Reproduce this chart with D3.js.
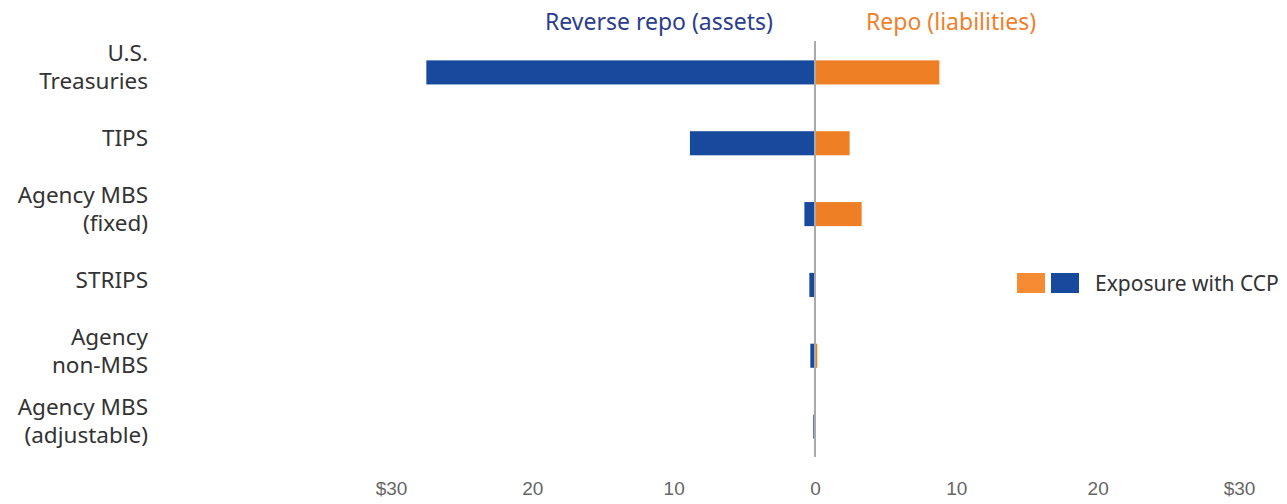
<!DOCTYPE html>
<html>
<head>
<meta charset="utf-8">
<script src="https://cdn.jsdelivr.net/npm/d3@7"></script>
<style>
  body { margin: 0; background: #fff; }
  svg { display: block; }
</style>
</head>
<body>
<svg width="1287" height="504"></svg>
<script>
// ==================================
// data
// ==================================
const categories = ["U.S. Treasuries", "TIPS", "Agency MBS (fixed)", "STRIPS", "Agency non-MBS", "Agency MBS (adjustable)"];
const categoryLines = [["U.S.", "Treasuries"], ["TIPS"], ["Agency MBS", "(fixed)"], ["STRIPS"], ["Agency", "non-MBS"], ["Agency MBS", "(adjustable)"]];
const reverseRepo = [27.5, 8.85, 0.75, 0.4, 0.33, 0.12];   // assets, drawn to the left
const repo = [8.8, 2.45, 3.3, 0, 0.16, 0];                  // liabilities, drawn to the right
const tickValues = [-30, -20, -10, 0, 10, 20, 30];
const tickLabels = ["$30", "20", "10", "0", "10", "20", "$30"];

const blue = "#174a9c";
const orange = "#ee7f24";
const font = "'Noto Sans', 'Open Sans', sans-serif";

const svg = d3.select("svg");

// scales
const x = d3.scaleLinear().domain([-30, 30]).range([391, 1239]);
const y = d3.scaleBand().domain(categories).range([37, 462]).paddingInner(0.66).paddingOuter(0.33);

// ==================================
// bars
// ==================================
svg.append("g").selectAll("rect")
  .data(categories)
  .enter()
  .append("rect")
  .attr("x", (d, i) => x(-reverseRepo[i]))
  .attr("y", d => y(d))
  .attr("width", (d, i) => x(0) - x(-reverseRepo[i]))
  .attr("height", y.bandwidth())
  .attr("fill", blue);

svg.append("g").selectAll("rect")
  .data(categories)
  .enter()
  .append("rect")
  .attr("x", x(0))
  .attr("y", d => y(d))
  .attr("width", (d, i) => x(repo[i]) - x(0))
  .attr("height", y.bandwidth())
  .attr("fill", orange);

// zero line
svg.append("line")
  .attr("x1", x(0)).attr("x2", x(0))
  .attr("y1", 41).attr("y2", 457)
  .attr("stroke", "#aaaaaa")
  .attr("stroke-width", 2);

// ==================================
// category labels
// ==================================
const labels = svg.append("g")
  .attr("font-family", font)
  .attr("font-size", 22.5)
  .attr("fill", "#333");

categories.forEach((c, i) => {
  const lines = categoryLines[i];
  const cy = y(c) + y.bandwidth() / 2 - 5;
  const t = labels.append("text")
    .attr("text-anchor", "end")
    .attr("x", 148)
    .attr("y", cy - (lines.length - 1) * 14);
  lines.forEach((l, j) => {
    t.append("tspan").attr("x", 148).attr("dy", j === 0 ? "0.35em" : 28).text(l);
  });
});

// ==================================
// axis
// ==================================
const axis = svg.append("g")
  .attr("transform", "translate(0,478)")
  .call(d3.axisBottom(x).tickValues(tickValues).tickFormat((d, i) => tickLabels[i]).tickSize(0));
axis.select(".domain").remove();
axis.selectAll("text")
  .attr("font-family", "'Liberation Sans Narrow', 'Liberation Sans', sans-serif")
  .attr("font-size", 19)
  .attr("fill", "#666");

// ==================================
// headers
// ==================================
svg.append("text")
  .attr("x", 773).attr("y", 22).attr("dy", "0.35em")
  .attr("text-anchor", "end")
  .attr("font-family", font).attr("font-size", 23)
  .attr("fill", "#2b3d8c")
  .text("Reverse repo (assets)");

svg.append("text")
  .attr("x", 866).attr("y", 22).attr("dy", "0.35em")
  .attr("font-family", font).attr("font-size", 23)
  .attr("fill", "#f07f2c")
  .text("Repo (liabilities)");

// ==================================
// legend
// ==================================
const legend = svg.append("g");
legend.append("rect").attr("x", 1017).attr("y", 273).attr("width", 28).attr("height", 20).attr("fill", "#f68b33");
legend.append("rect").attr("x", 1051).attr("y", 273).attr("width", 28).attr("height", 20).attr("fill", blue);
legend.append("text")
  .attr("x", 1095).attr("y", 284).attr("dy", "0.35em")
  .attr("font-family", font).attr("font-size", 21)
  .attr("fill", "#333")
  .text("Exposure with CCP");
</script>
</body>
</html>
